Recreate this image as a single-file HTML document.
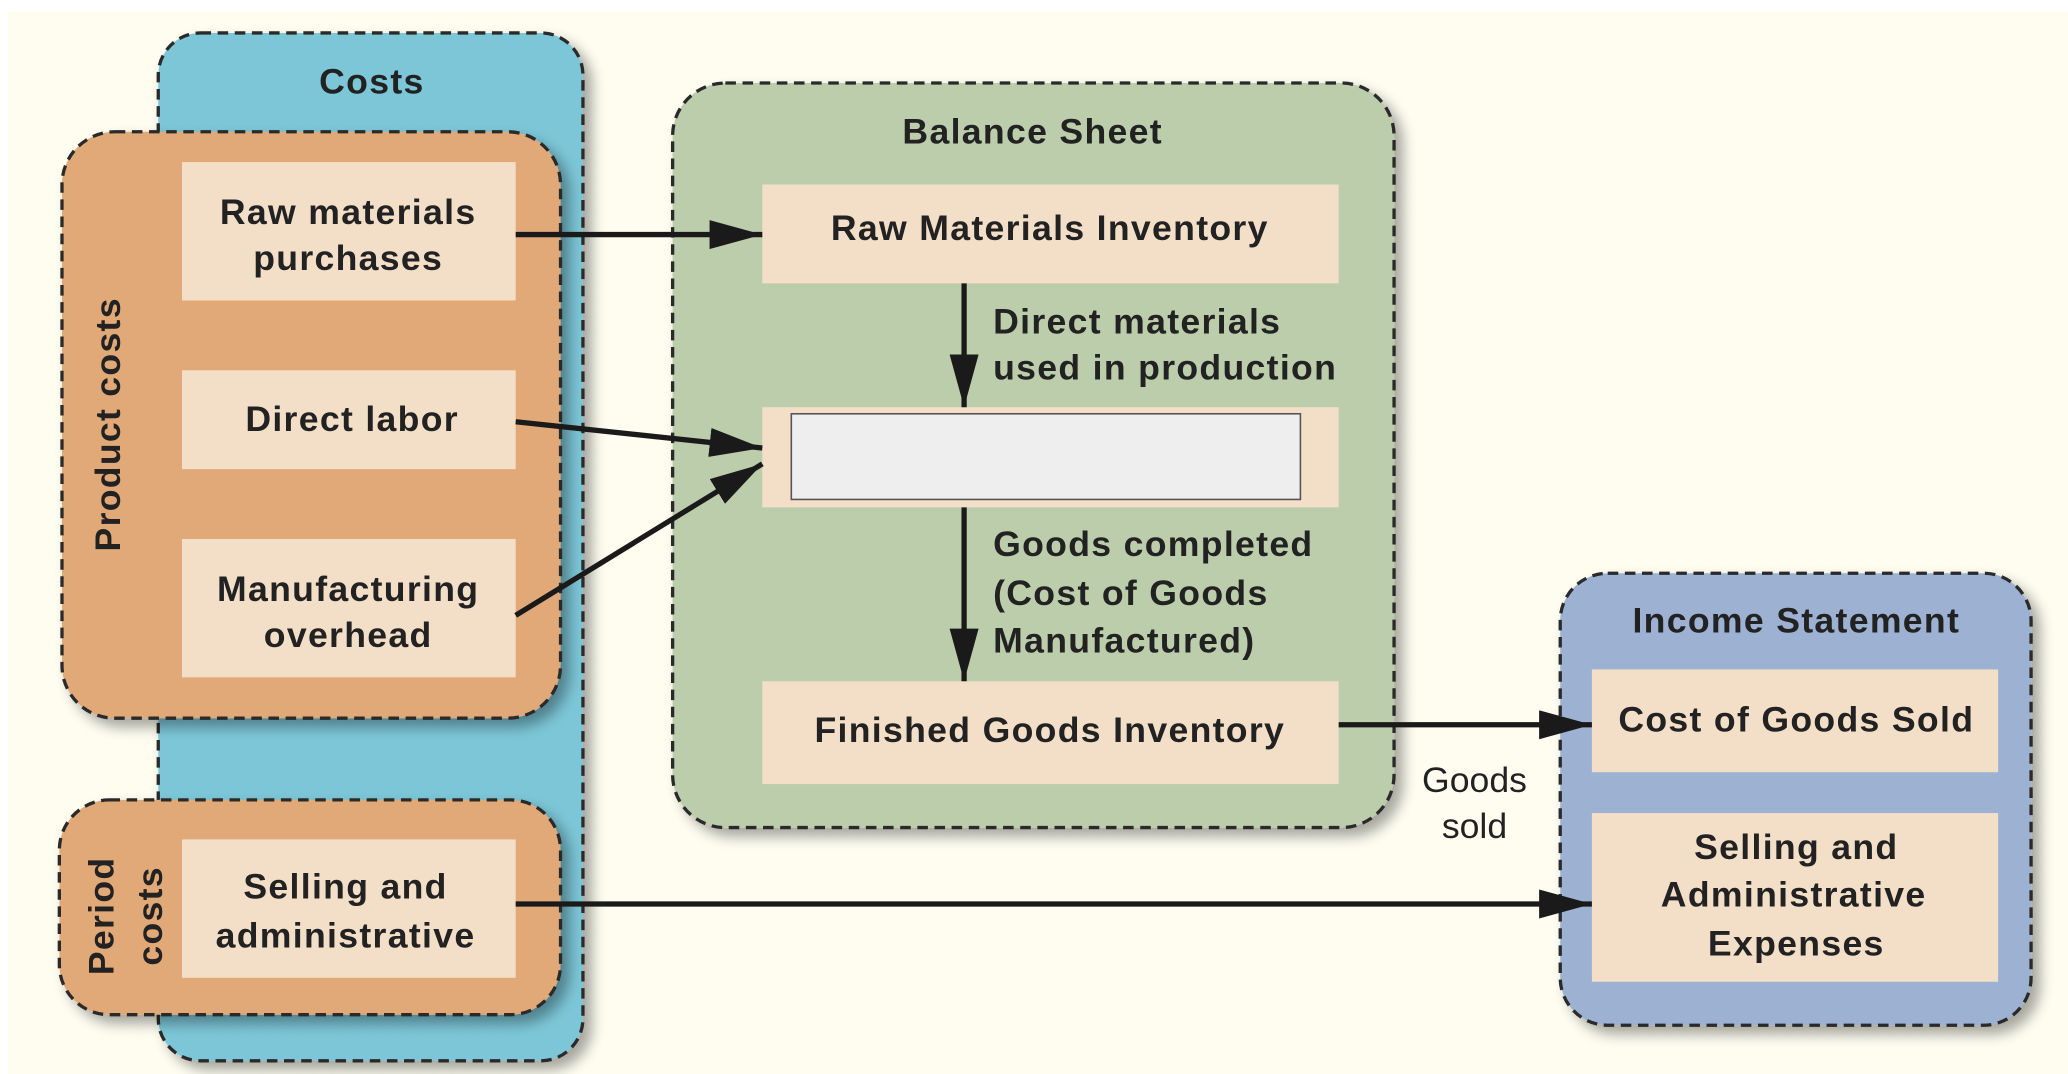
<!DOCTYPE html>
<html><head><meta charset="utf-8"><style>
html,body{margin:0;padding:0;background:#fff;}
svg{display:block;}
text{font-family:"Liberation Sans",sans-serif;fill:#222;}
.b{font-weight:bold;font-size:27px;letter-spacing:1px;}
.r{font-size:27px;}
</style></head><body>
<svg width="2068" height="1074" viewBox="0 0 1568 815" preserveAspectRatio="none" xmlns="http://www.w3.org/2000/svg">
<defs>
<filter id="sh" x="-10%" y="-10%" width="130%" height="130%"><feGaussianBlur in="SourceAlpha" stdDeviation="5"/><feOffset dx="6" dy="6"/><feComponentTransfer><feFuncA type="linear" slope="0.35"/></feComponentTransfer><feMerge><feMergeNode/><feMergeNode in="SourceGraphic"/></feMerge></filter>
<marker id="a" markerWidth="40" markerHeight="22" refX="40" refY="11" orient="auto" markerUnits="userSpaceOnUse"><path d="M0,0 L40,11 L0,22 Z" fill="#1a1a1a"/></marker>
</defs>
<rect x="6" y="9" width="1562" height="806" fill="#fefdf0"/>
<g stroke="#2a2a2a" stroke-width="2.5" stroke-dasharray="8,5">
<rect x="120" y="25" width="322" height="780" rx="32" fill="#7bc6d7" filter="url(#sh)"/>
<rect x="47" y="100" width="378" height="445" rx="40" fill="#e1a977" filter="url(#sh)"/>
<rect x="45" y="607" width="380" height="163" rx="38" fill="#e1a977" filter="url(#sh)"/>
<rect x="510" y="63" width="547" height="565" rx="40" fill="#bccdab" filter="url(#sh)"/>
<rect x="1183" y="435" width="357" height="343" rx="36" fill="#9db1d3" filter="url(#sh)"/>
</g>
<g fill="#f3dfc8">
<rect x="138" y="123" width="253" height="105"/>
<rect x="138" y="281" width="253" height="75"/>
<rect x="138" y="409" width="253" height="105"/>
<rect x="138" y="637" width="253" height="105"/>
<rect x="578" y="140" width="437" height="75"/>
<rect x="578" y="309" width="437" height="76"/>
<rect x="578" y="517" width="437" height="78"/>
<rect x="1207" y="508" width="308" height="78"/>
<rect x="1207" y="617" width="308" height="128"/>
</g>
<rect x="600" y="314" width="386" height="65" fill="#eeeeee" stroke="#555" stroke-width="1.2"/>
<g stroke="#1a1a1a" stroke-width="4" fill="none">
<line x1="391" y1="178" x2="578" y2="178" marker-end="url(#a)"/>
<line x1="391" y1="320" x2="578" y2="340" marker-end="url(#a)"/>
<line x1="391" y1="467" x2="578" y2="352" marker-end="url(#a)"/>
<line x1="731" y1="215" x2="731" y2="309" marker-end="url(#a)"/>
<line x1="731" y1="385" x2="731" y2="517" marker-end="url(#a)"/>
<line x1="1015" y1="550" x2="1207" y2="550" marker-end="url(#a)"/>
<line x1="391" y1="686" x2="1207" y2="686" marker-end="url(#a)"/>
</g>
<g class="b" text-anchor="middle">
<text x="282" y="71">Costs</text>
<text x="264" y="170">Raw materials</text>
<text x="264" y="205">purchases</text>
<text x="267" y="327">Direct labor</text>
<text x="264" y="456">Manufacturing</text>
<text x="264" y="491">overhead</text>
<text x="262" y="682">Selling and</text>
<text x="262" y="719">administrative</text>
<text x="783" y="109">Balance Sheet</text>
<text x="796" y="182">Raw Materials Inventory</text>
<text x="796" y="563">Finished Goods Inventory</text>
<text x="1362" y="480">Income Statement</text>
<text x="1362" y="555">Cost of Goods Sold</text>
<text x="1362" y="652">Selling and</text>
<text x="1360" y="688">Administrative</text>
<text x="1362" y="725">Expenses</text>
<text transform="translate(91,322) rotate(-90)">Product costs</text>
<text transform="translate(86,695) rotate(-90)">Period</text>
<text transform="translate(123,695) rotate(-90)">costs</text>
</g>
<g class="b">
<text x="753" y="253">Direct materials</text>
<text x="753" y="288">used in production</text>
<text x="753" y="422">Goods completed</text>
<text x="753" y="459">(Cost of Goods</text>
<text x="753" y="495">Manufactured)</text>
</g>
<g class="r" text-anchor="middle">
<text x="1118" y="601">Goods</text>
<text x="1118" y="636">sold</text>
</g>
</svg>
</body></html>
